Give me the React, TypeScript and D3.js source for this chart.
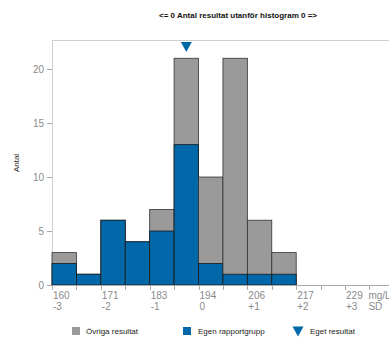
import React from 'react';
import * as d3 from 'd3';

// histogram bins (half SD each), totals and own group
const totals = [3, 1, 6, 4, 7, 21, 10, 21, 6, 3, 0, 0, 0, 0];
const own = [2, 1, 6, 4, 5, 13, 2, 1, 1, 1, 0, 0, 0, 0];
const tickValues = ['160', '171', '183', '194', '206', '217', '229'];
const sdLabels = ['-3', '-2', '-1', '0', '+1', '+2', '+3'];
const yTicks = [0, 5, 10, 15, 20];
const ownBin = 5;

const W = 389;
const H = 340;
const left = 52;
const top = 40;
const bottom = 285;
const grey = '#9a9a9a';
const blue = '#0068a8';
const txt = '#8a8a8a';
const font = 'Liberation Sans, Arial, sans-serif';

export default function App() {
  const x = d3.scaleLinear().domain([0, 14]).range([left, left + 14 * 24.42]);
  const y = d3.scaleLinear().domain([0, 22.69]).range([bottom, top]);
  const bins = d3.range(totals.length);

  return (
    <svg width={W} height={H} style={{ position: 'absolute', left: 0, top: 0 }} fontFamily={font}>
      <text x={238} y={18} textAnchor="middle" fontSize={8} fontWeight="bold" fill="#111">
        {'<= 0 Antal resultat utanför histogram 0 =>'}
      </text>

      {/* ram */}
      <line x1={left} x2={W} y1={top + 0.5} y2={top + 0.5} stroke="#cfcfcf" />
      <line x1={left + 0.5} x2={left + 0.5} y1={top} y2={bottom} stroke="#cfcfcf" />

      {/* y axel */}
      {yTicks.map(t => (
        <g key={t} transform={`translate(0 ${Math.round(y(t)) + 0.5})`}>
          <line x1={left - 5} x2={left} stroke="#aaa" />
          <text x={left - 8} dy="0.35em" textAnchor="end" fontSize={10} fill={txt}>{t}</text>
        </g>
      ))}
      <text transform={`translate(19 163) rotate(-90)`} textAnchor="middle" fontSize={8} fill="#222">Antal</text>

      {/* staplar */}
      {bins.map(i => totals[i] > 0 && (
        <g key={i}>
          <rect x={x(i)} y={y(totals[i])} width={x(i + 1) - x(i)} height={bottom - y(totals[i])}
            fill={grey} stroke="#333" strokeWidth={0.8} />
          {own[i] > 0 && (
            <rect x={x(i)} y={y(own[i])} width={x(i + 1) - x(i)} height={bottom - y(own[i])}
              fill={blue} stroke="#1a1a1a" strokeWidth={0.8} />
          )}
        </g>
      ))}

      {/* x axel */}
      <line x1={left} x2={W} y1={bottom + 0.5} y2={bottom + 0.5} stroke="#aaa" />
      {d3.range(15).map(i => (
        <line key={i} x1={Math.round(x(i)) + 0.5} x2={Math.round(x(i)) + 0.5} y1={bottom} y2={bottom + 5} stroke="#aaa" />
      ))}
      {tickValues.map((t, k) => (
        <g key={t} fontSize={10} fill={txt}>
          <text x={x(k * 2) + 1} y={299}>{t}</text>
          <text x={x(k * 2) + 1} y={309.5}>{sdLabels[k]}</text>
        </g>
      ))}
      <text x={x(13) - 1} y={299} fontSize={10} fill={txt}>mg/L</text>
      <text x={x(13) - 1} y={309.5} fontSize={10} fill={txt}>SD</text>

      {/* eget resultat */}
      <path d={`M${x(ownBin + 0.5) - 5.5},42 h11 l-5.5,10 z`} fill={blue} />

      {/* legend */}
      <g fontSize={8} fill="#222">
        <rect x={72} y={327} width={8} height={8} fill={grey} />
        <text x={86} y={334}>Övriga resultat</text>
        <rect x={183} y={327} width={8} height={8} fill={blue} />
        <text x={198} y={334}>Egen rapportgrupp</text>
        <path d="M292.5,326.5 h11 l-5.5,10 z" fill={blue} />
        <text x={310} y={334}>Eget resultat</text>
      </g>
    </svg>
  );
}
